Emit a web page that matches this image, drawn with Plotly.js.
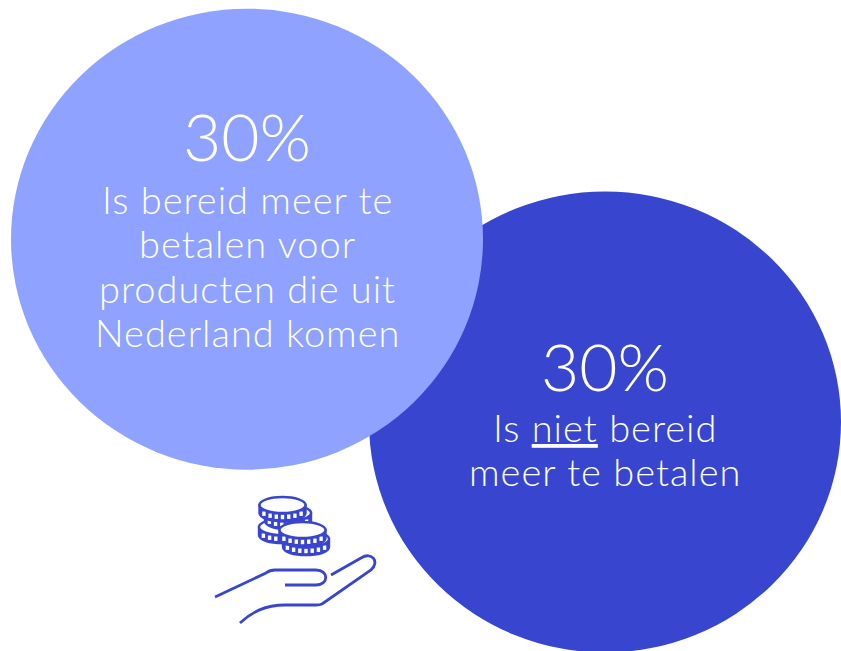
<!DOCTYPE html>
<html>
<head>
<meta charset="utf-8">
<script src="https://cdn.plot.ly/plotly-3.0.1.min.js"></script>
<style>html,body{margin:0;padding:0;background:#fff;overflow:hidden}</style>
</head>
<body>
<div id="chart" style="width:841px;height:651px"></div>
<script>
// Survey shares, drawn as two overlapping bubbles
const categories = ['Is niet bereid meer te betalen', 'Is bereid meer te betalen voor producten die uit Nederland komen'];
const shares = [30, 30];
const shareLabels = ['30%', '30%'];
const captionLines = [
  ['Is <span style="text-decoration:underline">niet</span> bereid', 'meer te betalen'],
  ['Is bereid meer te', 'betalen voor', 'producten die uit', 'Nederland komen']
];
const bubbleColors = ['#3845CF', '#8FA2FF'];
const centerX = [605, 247];
const centerY = [422, 239.2];
const labelY = [374, 144.5];
const captionY = [426.5, 198.5];
const captionStep = 44.5;

const ink = '#3845CF';
const pxPerPointX = 236 / 30;
const pxPerPointY = 230.5 / 30;

// Bubbles: the later one sits on top
const bubbles = shares.map((s, i) => ({
  type: 'circle', xref: 'x', yref: 'y', layer: 'below',
  x0: centerX[i] - s * pxPerPointX, x1: centerX[i] + s * pxPerPointX,
  y0: centerY[i] - s * pxPerPointY, y1: centerY[i] + s * pxPerPointY,
  fillcolor: bubbleColors[i], line: {width: 0}
}));

// Hand outline
const handPaths = [
  'M215,597 L266,573 Q270,570 275,570 L316,570 C329,570 329,585 316,585 L285,585',
  'M331,575 L361,558 C372,551 380,562 371,570 L322,604 Q320,605 316,605 L285,605 C265,605 252,612 240,623'
];

// One coin: solid rim band with white notches, top face in front
function coinShapes(cx, cy, rx, ry, h) {
  const line = {color: ink, width: 2.4};
  const out = [];
  const kx = rx * 0.5523, ky = ry * 1.3333;
  const body = `M${cx - rx},${cy} L${cx - rx},${cy + h} C${cx - rx},${cy + h + ky} ${cx + rx},${cy + h + ky} ${cx + rx},${cy + h} L${cx + rx},${cy} Z`;
  out.push({type: 'path', xref: 'x', yref: 'y', path: body, fillcolor: ink, line});
  for (let i = -3; i <= 3; i++) {
    const x = cx + i * 6.2;
    const u = (x - cx) / rx;
    const y = cy + ry * Math.sqrt(1 - u * u);
    out.push({
      type: 'path', xref: 'x', yref: 'y',
      path: `M${x - 1.7},${y + 1.8} L${x + 1.7},${y + 1.8} L${x + 1.7},${y + h - 1.8} L${x - 1.7},${y + h - 1.8} Z`,
      fillcolor: '#fff', line: {width: 0}
    });
  }
  out.push({type: 'circle', xref: 'x', yref: 'y', x0: cx - rx, x1: cx + rx, y0: cy - ry, y1: cy + ry, fillcolor: '#fff', line});
  return out;
}

const shapes = [
  ...bubbles,
  ...handPaths.map(p => ({type: 'path', xref: 'x', yref: 'y', path: p, line: {color: ink, width: 2.8}})),
  ...coinShapes(282, 527, 23, 8, 8),
  ...coinShapes(288, 513, 23, 8, 8),
  ...coinShapes(282.5, 505, 23, 8, 8),
  ...coinShapes(306, 539, 23, 8, 8),
  ...coinShapes(302.5, 530, 23, 8, 8)
];

const annotations = [];
captionLines.forEach((lines, i) => {
  lines.forEach((line, k) => {
    annotations.push({
      x: centerX[i], y: captionY[i] + k * captionStep, xref: 'x', yref: 'y',
      text: `<span style="letter-spacing:1px">${line}</span>`, showarrow: false,
      font: {family: 'Lato, sans-serif', weight: 300, size: 38, color: '#fff'}
    });
  });
});

Plotly.newPlot('chart', [{
  type: 'scatter',
  mode: 'text',
  x: centerX,
  y: labelY,
  text: shareLabels,
  customdata: categories,
  textposition: 'middle center',
  textfont: {family: 'Lato, sans-serif', weight: 300, size: 66, color: '#fff'},
  hoverinfo: 'skip'
}], {
  width: 841,
  height: 651,
  margin: {l: 0, r: 0, t: 0, b: 0},
  paper_bgcolor: '#fff',
  plot_bgcolor: '#fff',
  showlegend: false,
  xaxis: {range: [0, 841], visible: false, fixedrange: true},
  yaxis: {range: [651, 0], visible: false, fixedrange: true},
  shapes,
  annotations
}, {displayModeBar: false, staticPlot: true});
</script>
</body>
</html>
